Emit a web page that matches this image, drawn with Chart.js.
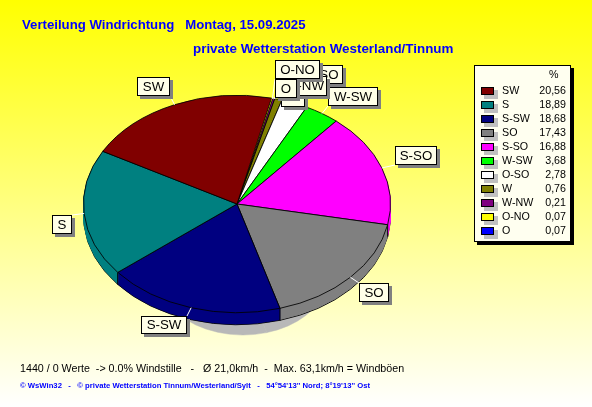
<!DOCTYPE html>
<html><head><meta charset="utf-8">
<style>html,body{margin:0;padding:0;width:592px;height:407px;overflow:hidden;background:linear-gradient(#ffff00,#ffffff)}canvas{display:block}</style>
<script src="https://cdn.jsdelivr.net/npm/chart.js@4"></script></head>
<body><div style="position:absolute;left:0;top:0;width:592px;height:407px"><canvas id="c" width="592" height="407"></canvas></div>
<script>
const categories=['SW','S','S-SW','SO','S-SO','W-SW','O-SO','W','W-NW','O-NO','O'];
const values=[20.56,18.89,18.68,17.43,16.88,3.68,2.78,0.76,0.21,0.07,0.07];
const colours=['#800000','#008080','#000080','#808080','#ff00ff','#00ff00','#ffffff','#808000','#800080','#ffff00','#0000ff'];
const outlineColours=['#000','#000','#000','#000','#000','#000','#000','#000','#000','#ffff00','#ffff00'];
const outlineWidths=[1,1,1,1,1,1,1,1,1,2,2];
const titleA='Verteilung Windrichtung   Montag, 15.09.2025';
const titleB='private Wetterstation Westerland/Tinnum';
const footA='1440 / 0 Werte  -> 0.0% Windstille   -   Ø 21,0km/h  -  Max. 63,1km/h = Windböen';
const footB='© WsWin32   -   © private Wetterstation Tinnum/Westerland/Sylt   -   54°54\'13\'\' Nord; 8°19\'13\'\' Ost';
const boxes={'SW':[137,77,33,19],'S':[52,215,20,19],'S-SW':[141,316,46,18],'SO':[359,283,30,19],'S-SO':[395,146,42,19],'W-SW':[328,87,50,19],'O-SO':[300,65,43,19],'W':[281,80,24,27],'W-NW':[282,76,45,20],'O-NO':[275,60,45,19],'O':[275,79,22,19]};
const CX=237,CY=204,R=153.5,RATIO=0.708,DEPTH=12;
const SHADOW={x:243,y:275,rx:85,ry:60,color:'#b8b8b8'};
const FONT='"Liberation Sans", Arial, sans-serif';
function withOpts(el,over){const o=el.options;el.options=Object.assign(Object.create(o),over);return ()=>{el.options=o;};}
const pie3d={id:'pie3d',
 beforeDatasetDraw(chart){
  const ctx=chart.ctx,arcs=chart.getDatasetMeta(0).data,ax=arcs[0].x,ay=arcs[0].y;
  ctx.save();ctx.translate(SHADOW.x,SHADOW.y);ctx.scale(SHADOW.rx/R,SHADOW.ry/R);ctx.translate(-ax,-ay);
  arcs.forEach(a=>{const r=withOpts(a,{backgroundColor:SHADOW.color,borderColor:SHADOW.color,borderWidth:1});a.draw(ctx);r();});
  ctx.restore();
  ctx.save();ctx.translate(CX,CY);ctx.scale(1,RATIO);ctx.translate(-ax,-ay);
  for(let d=DEPTH;d>0;d--){
   ctx.save();ctx.translate(0,d/RATIO);
   arcs.forEach(a=>{const bg=a.options.backgroundColor;const r=withOpts(a,{borderColor:d===DEPTH?'#000':bg,borderWidth:1});a.draw(ctx);r();});
   ctx.restore();
  }
  ctx.restore();
  ctx.save();ctx.strokeStyle='#000';ctx.lineWidth=1;
  arcs.forEach(a=>{const s=Math.sin(a.startAngle);if(s>0.05){const x=CX+R*Math.cos(a.startAngle),y=CY+R*RATIO*s;ctx.beginPath();ctx.moveTo(x,y);ctx.lineTo(x,y+DEPTH);ctx.stroke();}});
  ctx.restore();
  ctx.save();ctx.translate(CX,CY);ctx.scale(1,RATIO);ctx.translate(-ax,-ay);
 },
 afterDatasetDraw(chart){chart.ctx.restore();},
 afterDraw(chart){
  const ctx=chart.ctx,arcs=chart.getDatasetMeta(0).data;
  ctx.save();ctx.textBaseline='middle';ctx.textAlign='left';
  ctx.fillStyle='#0000ff';ctx.font='bold 13.2px '+FONT;ctx.fillText(titleA,22,25);
  ctx.font='bold 13.4px '+FONT;ctx.fillText(titleB,193,49);
  ctx.fillStyle='#000';ctx.font='10.7px '+FONT;ctx.fillText(footA,20,369);
  ctx.fillStyle='#0000ff';ctx.font='bold 7.7px '+FONT;ctx.fillText(footB,20,386);
  categories.forEach((n,i)=>{
   const a=arcs[arcs.length-1-i],b=boxes[n],m=(a.startAngle+a.endAngle)/2;
   const ex=CX+a.outerRadius*Math.cos(m),ey=CY+a.outerRadius*RATIO*Math.sin(m);
   ctx.strokeStyle='#fff';ctx.lineWidth=1;ctx.beginPath();ctx.moveTo(ex,ey);
   ctx.lineTo(Math.min(Math.max(ex,b[0]),b[0]+b[2]),Math.min(Math.max(ey,b[1]),b[1]+b[3]));ctx.stroke();
  });
  categories.forEach(n=>{
   const b=boxes[n];
   ctx.fillStyle='#808080';ctx.fillRect(b[0]+3,b[1]+3,b[2],b[3]);
   ctx.fillStyle='#ffffe8';ctx.fillRect(b[0],b[1],b[2],b[3]);
   ctx.strokeStyle='#000';ctx.lineWidth=1;ctx.strokeRect(b[0]+.5,b[1]+.5,b[2]-1,b[3]-1);
   ctx.fillStyle='#000';ctx.font='13.3px '+FONT;ctx.textAlign='center';
   ctx.fillText(n,b[0]+b[2]/2,b[1]+b[3]/2+.5);
  });
  ctx.fillStyle='#000';ctx.fillRect(477,68,97,177);
  ctx.fillStyle='#fffff0';ctx.fillRect(474,65,97,177);
  ctx.strokeStyle='#000';ctx.strokeRect(474.5,65.5,96,176);
  ctx.fillStyle='#000';ctx.font='10.7px '+FONT;ctx.textAlign='left';ctx.fillText('%',549,75.5);
  categories.forEach((n,i)=>{
   const y=91+14*i;
   ctx.fillStyle='#c0c0c0';ctx.fillRect(484,y-1,14,9);
   ctx.fillStyle=colours[i];ctx.fillRect(481,y-4,13,8);
   ctx.strokeStyle='#000';ctx.strokeRect(481.5,y-3.5,12,7);
   ctx.fillStyle='#000';ctx.textAlign='left';ctx.fillText(n,502,y+.5);
   ctx.textAlign='right';ctx.fillText(values[i].toFixed(2).replace('.',','),566,y+.5);
  });
  ctx.restore();
 }};
new Chart(document.getElementById('c'),{type:'pie',
 data:{labels:[...categories].reverse(),datasets:[{data:[...values].reverse(),backgroundColor:[...colours].reverse(),borderColor:[...outlineColours].reverse(),borderWidth:[...outlineWidths].reverse(),borderAlign:'center',clip:false}]},
 options:{responsive:false,animation:false,rotation:13,radius:R,layout:{padding:0},events:[],plugins:{legend:{display:false},tooltip:{enabled:false},title:{display:false}}},
 plugins:[pie3d]});
</script></body></html>
